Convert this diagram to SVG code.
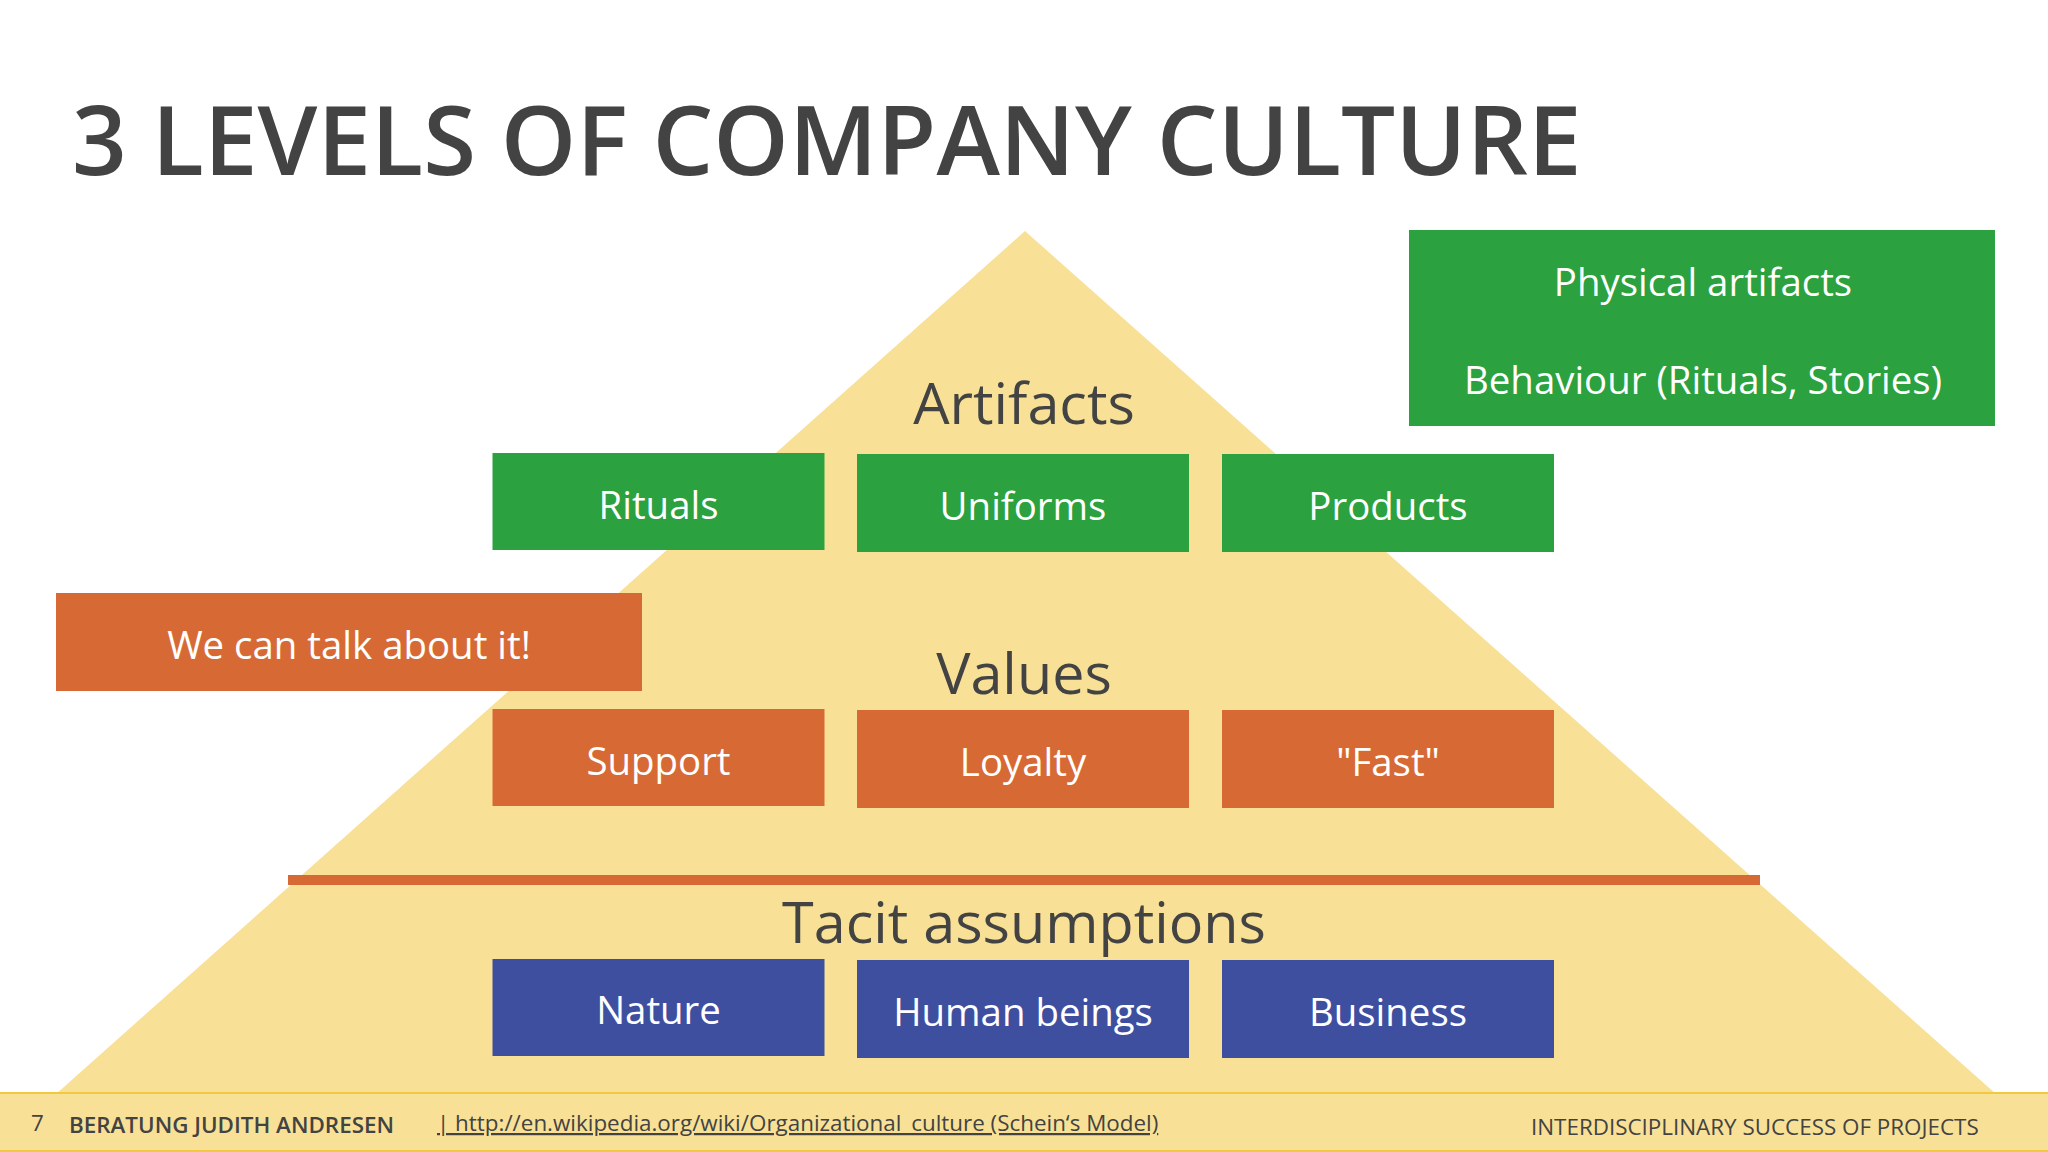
<svg xmlns="http://www.w3.org/2000/svg" width="2048" height="1152" viewBox="0 0 2048 1152">
<style>
text{font-family:"Open Sans","Noto Sans","Liberation Sans",sans-serif}
.box{font-size:38.4px;fill:#fff;text-anchor:middle}
.lvl{font-size:57.5px;fill:#434343;text-anchor:middle}
.g{fill:#2ba140}.o{fill:#d76a34}.b{fill:#3f4f9f}
.ft{font-size:22.4px;fill:#434343}
</style>
<rect width="2048" height="1152" fill="#fff"/>
<text x="72" y="175" font-size="96" font-weight="600" fill="#434343">3 LEVELS OF COMPANY CULTURE</text>
<g id="pyramid"><polygon points="1025,231 1996,1094 56,1094" fill="#f8e196"/></g>
<g id="footer">
<rect x="0" y="1093" width="2048" height="58" fill="#f8e196"/>
<rect x="0" y="1092" width="2048" height="2" fill="#f1c93f"/>
<rect x="0" y="1150" width="2048" height="2" fill="#f1c93f"/>
<text class="ft" x="31" y="1131">7</text>
<text class="ft" x="69" y="1133" font-weight="600">BERATUNG JUDITH ANDRESEN</text>
<text class="ft" x="437" y="1131" text-decoration="underline">| http://en.wikipedia.org/wiki/Organizational_culture (Schein‘s Model)</text>
<text class="ft" x="1531" y="1134.500">INTERDISCIPLINARY SUCCESS OF PROJECTS</text>
</g>
<g id="label-artifacts"><text class="lvl" x="1024" y="424">Artifacts</text></g>
<g id="label-values"><text class="lvl" x="1024" y="694">Values</text></g>
<g id="label-tacit"><text class="lvl" x="1024" y="943">Tacit assumptions</text></g>
<g id="connectors"><rect x="288" y="875" width="1472" height="10" class="o"/></g>
<g id="physical"><rect x="1409" y="230" width="586" height="196" class="g"/>
<text class="box" x="1703" y="296">Physical artifacts</text><text class="box" x="1703" y="394">Behaviour (Rituals, Stories)</text></g>
<g id="talk"><rect x="56" y="593" width="586" height="98" class="o"/><text class="box" x="349" y="659">We can talk about it!</text></g>
<g id="rituals"><rect x="492.500" y="453" width="332" height="97" class="g"/><text class="box" x="658.500" y="519">Rituals</text></g>
<g id="uniforms"><rect x="857" y="454" width="332" height="98" class="g"/><text class="box" x="1023" y="520">Uniforms</text></g>
<g id="products"><rect x="1222" y="454" width="332" height="98" class="g"/><text class="box" x="1388" y="520">Products</text></g>
<g id="support"><rect x="492.500" y="709" width="332" height="97" class="o"/><text class="box" x="658.500" y="775">Support</text></g>
<g id="loyalty"><rect x="857" y="710" width="332" height="98" class="o"/><text class="box" x="1023" y="776">Loyalty</text></g>
<g id="fast"><rect x="1222" y="710" width="332" height="98" class="o"/><text class="box" x="1388" y="776">"Fast"</text></g>
<g id="nature"><rect x="492.500" y="959" width="332" height="97" class="b"/><text class="box" x="658.500" y="1024">Nature</text></g>
<g id="human"><rect x="857" y="960" width="332" height="98" class="b"/><text class="box" x="1023" y="1026">Human beings</text></g>
<g id="business"><rect x="1222" y="960" width="332" height="98" class="b"/><text class="box" x="1388" y="1026">Business</text></g>
</svg>
